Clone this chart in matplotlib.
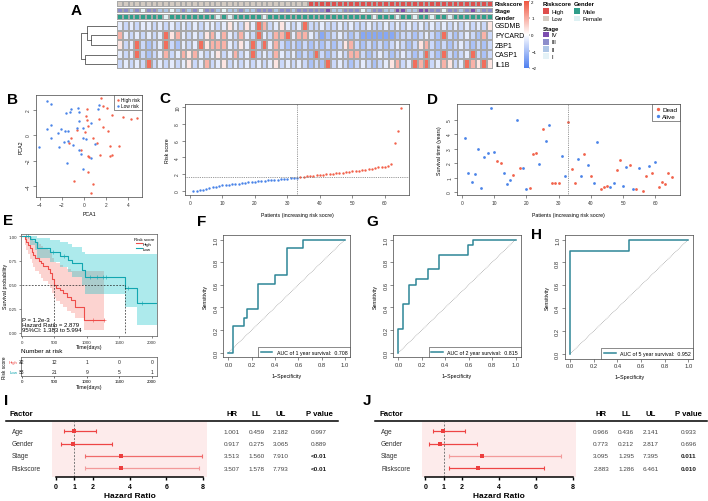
import numpy as np
import matplotlib
matplotlib.use('Agg')
import matplotlib.pyplot as plt
from matplotlib.colors import LinearSegmentedColormap, ListedColormap
from matplotlib.patches import Rectangle
from matplotlib.lines import Line2D
import matplotlib.transforms as mtrans

plt.rcParams['font.family'] = ['Liberation Sans', 'DejaVu Sans']

# ---------------- data ----------------
genes = ['GSDMB', 'PYCARD', 'ZBP1', 'CASP1', 'IL1B']
# expression levels coded a (blue) ... g (red), one char per patient
expr_rows = [
    "dcdcddcdcd" "cdcdcddcde" "dcedgfcded" "cdgccdccdc" "dccdccdcdc" "dcdcdcdcdc" "dcdce",
    "fdcdcdcdge" "fdcdcefdfd" "cfdcgdcffg" "dffdcabcdc" "bcaaaaaabc" "cbcdcbgcbc" "dcbfc",
    "ecdgcbcdgc" "bdcdgefffd" "cedgcgdfcb" "cbcbcbcbce" "fcbcbcbcdc" "bcefcbcbcd" "cbcbc",
    "dcdgcbcdfc" "dfefdcdecd" "fcdgcdcfdc" "dbcbgcbcdc" "ffcbcdcbcd" "cbcgcbgcbc" "dgcbc",
    "cdcdcgcdcd" "cdecdfcdec" "dcdcdcdecd" "cdcbcbgcdc" "bcdcbcdefc" "dgfgcdfecd" "gfege",
]
level = {'a': -1.35, 'b': -0.95, 'c': -0.6, 'd': -0.3, 'e': 0.3, 'f': 0.9, 'g': 1.7}
n_low, n_high = 33, 32
stage_codes = "3323133221" "2323133212" "2322333233" "2333334223" "3312332244" "2244331332" "34233"
gender_codes = "1111111101" "1111111010" "1111101111" "1111111111" "1111011101" "1011011011" "11111"
dend_height = {'pz': 2.2, 'g_pz': 2.5, 'ci': 2.7, 'root': 3.0}

pca_high_x = [1.55, 1.76, 2.06, 2.58, 3.58, 4.27, 4.79, 0.24, 0.18, 0.24, 0.39, 0.09, 1.39, 1.76, 2.15, -1.21,
              -1.36, 0.79, 1.21, 2.36, 3.18, -0.3, 0.39, 1.45, 2.36, 2.55, 0.39, -0.91, 0.79, 0.61, -0.67, 0.45]
pca_high_y = [2.9, 2.25, 2.12, 1.57, 1.44, 1.25, 1.31, 2.04, 1.52, 1.18, 0.68, 0.26, 1.25, 0.6, 0.34, -0.24,
              -0.63, -0.26, -0.63, -0.84, -0.86, -1.15, -1.67, -1.57, -1.62, -1.54, -2.93, -3.63, -3.87, -4.58, 0.39, -1.75]
pca_low_x = [-3.4, -3.0, -1.64, -1.21, -1.27, -0.58, -0.42, 1.24, 1.39, -0.42, 0.67, -0.6, -0.12, -1.48, -1.73, -2.09,
             -3.0, -3.39, -2.39, -3.03, -4.06, -2.24, -1.79, -1.42, -0.97, -0.06, 0.15, 1.0, -0.45, -0.3, 0.64, -1.58, -0.06]
pca_low_y = [2.69, 2.43, 1.75, 2.04, 1.78, 2.09, 1.78, 2.04, 2.38, 1.12, 0.94, 0.52, 0.57, 0.29, 0.29, 0.5,
             0.78, 0.44, 0.13, -0.24, -0.94, -0.97, -0.52, -0.5, -0.76, -0.24, -0.31, -0.71, -1.18, -1.49, -1.8, -2.22, -2.69]

risk_low = [0.00, 0.02, 0.05, 0.15, 0.25, 0.32, 0.45, 0.50, 0.58, 0.65, 0.70, 0.74, 0.78, 0.82, 0.86, 0.90, 0.95,
            1.00, 1.05, 1.10, 1.15, 1.18, 1.22, 1.25, 1.28, 1.31, 1.35, 1.38, 1.42, 1.46, 1.50, 1.54, 1.58]
risk_high = [1.64, 1.68, 1.72, 1.76, 1.82, 1.86, 1.90, 1.93, 1.96, 2.00, 2.04, 2.08, 2.12, 2.16, 2.22, 2.28, 2.33,
             2.38, 2.42, 2.46, 2.52, 2.58, 2.66, 2.75, 2.82, 2.86, 2.90, 3.00, 3.17, 5.70, 7.20, 9.95]
risk_cutoff = 1.62

surv_time = [3.75, 1.35, 0.70, 1.22, 2.98, 0.25, 2.40, 2.70, 5.82, 2.75, 2.15, 2.00, 1.35, 0.57, 0.85, 1.18,
             5.00, 1.67, 1.67, 0.20, 0.30, 2.60, 2.68, 1.92, 4.35, 3.55, 4.60, 0.62, 0.60, 0.62, 2.50, 1.10,
             4.86, 1.62, 0.62, 2.25, 1.08, 2.62, 1.90, 1.10, 0.62, 3.45, 0.20, 0.32, 0.45, 0.37, 0.62, 1.50,
             2.18, 0.42, 1.72, 1.90, 0.23, 0.24, 1.65, 0.08, 1.13, 1.78, 1.30, 2.08, 0.37, 0.72, 0.55, 1.33, 1.05]
surv_dead = [0, 0, 0, 0, 0, 0, 0, 0, 0, 0, 1, 1, 0, 0, 0, 1, 0, 1, 0, 0, 1, 1, 1, 0, 1, 0, 0, 1, 1, 1, 0, 0,
             1, 1, 1, 0, 0, 1, 0, 1, 0, 0, 1, 1, 1, 0, 0, 1, 1, 0, 0, 1, 0, 1, 0, 1, 1, 0, 1, 0, 1, 1, 1, 1, 1]

km_high_t = [0, 40, 60, 90, 120, 150, 175, 200, 260, 300, 330, 400, 430, 460, 490, 530, 580, 630, 700, 760, 820, 960, 1270]
km_high_s = [1.0, 0.97, 0.94, 0.91, 0.88, 0.84, 0.81, 0.78, 0.75, 0.72, 0.69, 0.66, 0.62, 0.56, 0.50, 0.47, 0.44,
             0.41, 0.37, 0.34, 0.27, 0.13, 0.13]
km_high_up = [1.0, 1.0, 1.0, 1.0, 0.99, 0.97, 0.95, 0.94, 0.92, 0.90, 0.88, 0.86, 0.83, 0.78, 0.74, 0.72, 0.70,
              0.68, 0.66, 0.64, 0.64, 0.64, 0.64]
km_high_lo = [1.0, 0.91, 0.86, 0.82, 0.77, 0.72, 0.68, 0.64, 0.61, 0.57, 0.54, 0.51, 0.47, 0.41, 0.36, 0.33, 0.30,
              0.27, 0.23, 0.21, 0.15, 0.03, 0.03]
km_low_t = [0, 120, 200, 230, 430, 590, 710, 765, 920, 970, 1580, 1770, 2080]
km_low_s = [1.0, 0.97, 0.94, 0.88, 0.84, 0.80, 0.76, 0.72, 0.65, 0.58, 0.47, 0.31, 0.31]
km_low_up = [1.0, 1.0, 1.0, 0.98, 0.96, 0.94, 0.92, 0.89, 0.84, 0.82, 0.82, 0.82, 0.82]
km_low_lo = [1.0, 0.91, 0.86, 0.78, 0.73, 0.68, 0.63, 0.58, 0.50, 0.40, 0.27, 0.08, 0.08]
cens_high = [1100, 1270]
cens_low = [60, 100, 480, 650, 1050, 1150, 1250, 1300, 1640, 1850]
km_median = [490, 1580]
risk_times = [0, 500, 1000, 1500, 2000]
at_risk_high = [32, 12, 1, 0, 0]
at_risk_low = [33, 21, 9, 5, 1]

roc1_fpr = [0, 0.043, 0.134, 0.163, 0.257, 0.40, 0.50, 0.643, 1.0]
roc1_tpr = [0, 0.235, 0.308, 0.384, 0.610, 0.689, 0.924, 1.0, 1.0]
roc2_fpr = [0, 0, 0.042, 0.093, 0.15, 0.253, 0.346, 0.59, 0.64, 1.0]
roc2_tpr = [0, 0.208, 0.434, 0.60, 0.648, 0.742, 0.865, 0.956, 1.0, 1.0]
roc5_fpr = [0, 0, 0.5, 1.0]
roc5_tpr = [0, 0.90, 1.0, 1.0]

factors = ['Age', 'Gender', 'Stage', 'Riskscore']
uni_hr = [1.001, 0.917, 3.513, 3.507]
uni_ll = [0.459, 0.275, 1.560, 1.578]
uni_ul = [2.182, 3.065, 7.910, 7.793]
uni_p = ['0.997', '0.889', '<0.01', '<0.01']
multi_hr = [0.966, 0.773, 3.095, 2.883]
multi_ll = [0.436, 0.212, 1.295, 1.286]
multi_ul = [2.141, 2.817, 7.395, 6.461]
multi_p = ['0.933', '0.696', '0.011', '0.010']

# ---------------- helpers ----------------
W, H = 708, 502
fig = plt.figure(figsize=(W / 100, H / 100), dpi=100)

RED = '#F2624B'
BLUE = '#4A84E8'


def box(l, t, r, b):
    return [l / W, 1 - b / H, (r - l) / W, (b - t) / H]


def ftext(x, y, s, **kw):
    kw.setdefault('va', 'center')
    fig.text(x / W, 1 - y / H, s, **kw)


def frect(l, t, r, b, color, ec='none'):
    fig.add_artist(Rectangle((l / W, 1 - b / H), (r - l) / W, (b - t) / H, transform=fig.transFigure,
                             facecolor=color, edgecolor=ec, linewidth=0.3))


def fline(x0, y0, x1, y1, **kw):
    fig.add_artist(Line2D([x0 / W, x1 / W], [1 - y0 / H, 1 - y1 / H], transform=fig.transFigure, **kw))


def letter(x, y, s):
    ftext(x, y, s, fontsize=11, fontweight='bold', ha='center')


def r_style(ax, size=3.8):
    for s in ax.spines.values():
        s.set_linewidth(0.5)
        s.set_color('#444')
    ax.tick_params(length=2, width=0.4, pad=1.5, labelsize=size, colors='#333')
    ax.tick_params(axis='y', labelrotation=90)
    for lab in ax.get_yticklabels():
        lab.set_va('center')


# ---------------- A: heatmap ----------------
letter(76, 11, 'A')
expr = np.array([[level[ch] for ch in row] for row in expr_rows])
cmap = LinearSegmentedColormap.from_list('hm', ['#4F7FEF', '#FFFFFF', '#F0553F'])
axh = fig.add_axes(box(117, 22, 493, 70))
mesh = axh.pcolormesh(expr, cmap=cmap, vmin=-2, vmax=2, edgecolors='#a8a8a8', linewidth=0.3)
axh.set_ylim(len(genes), 0)
axh.axis('off')
for i, g in enumerate(genes):
    axh.text(1.005, 1 - (i + 0.5) / len(genes), g, transform=axh.transAxes, fontsize=5, va='center', ha='left')

palette = ['#D3CBC2', '#DE4E4C', '#E4F2F7', '#AEC6E6', '#8C8DCB', '#7D4EAF', '#DDF1F3', '#2E9E8A']
ann_rows = [
    ('Riskscore', [0] * n_low + [1] * n_high, (2, 7.6)),
    ('Stage', [1 + int(c) for c in stage_codes], (8.8, 14.2)),
    ('Gender', [6 + int(c) for c in gender_codes], (15.4, 20.8)),
]
for name, codes, (t, b) in ann_rows:
    axa = fig.add_axes(box(117, t, 493, b))
    axa.pcolormesh(np.array([codes]), cmap=ListedColormap(palette), vmin=-0.5, vmax=7.5,
                   edgecolors='#a8a8a8', linewidth=0.3)
    axa.axis('off')
    ftext(495, (t + b) / 2, name, fontsize=4.2, fontweight='bold', ha='left')

axd = fig.add_axes(box(79, 22, 117, 70))
leaf = [0.5, 1.5, 2.5, 3.5, 4.5]
dk = dict(color='#333', lw=0.5)


def u(ax, y1, h1, y2, h2, h):
    ax.plot([h1, h, h, h2], [y1, y1, y2, y2], **dk)


hz = dend_height
u(axd, leaf[1], 0, leaf[2], 0, hz['pz'])
c_pz = (leaf[1] + leaf[2]) / 2
u(axd, leaf[0], 0, c_pz, hz['pz'], hz['g_pz'])
c_gpz = (leaf[0] + c_pz) / 2
u(axd, leaf[3], 0, leaf[4], 0, hz['ci'])
c_ci = (leaf[3] + leaf[4]) / 2
u(axd, c_gpz, hz['g_pz'], c_ci, hz['ci'], hz['root'])
axd.set_xlim(3.2, 0)
axd.set_ylim(5, 0)
axd.axis('off')

cax = fig.add_axes(box(524, 2, 528.5, 69))
cb = fig.colorbar(mesh, cax=cax, ticks=[-2, -1, 0, 1, 2])
cb.outline.set_visible(False)
cax.tick_params(labelsize=3.2, length=1, width=0.3, pad=1)

# annotation legends
ftext(542.5, 5, 'Riskscore', fontsize=4.3, fontweight='bold', ha='left')
for j, (lab, col) in enumerate([('High', palette[1]), ('Low', palette[0])]):
    frect(542.5, 9.3 + j * 7.3, 549.3, 15 + j * 7.3, col)
    ftext(551.5, 12.2 + j * 7.3, lab, fontsize=4.3, ha='left')
ftext(573.5, 5, 'Gender', fontsize=4.3, fontweight='bold', ha='left')
for j, (lab, col) in enumerate([('Male', palette[7]), ('Female', palette[6])]):
    frect(573.5, 9.3 + j * 7.3, 580.3, 15 + j * 7.3, col)
    ftext(582.5, 12.2 + j * 7.3, lab, fontsize=4.3, ha='left')
ftext(542.5, 29.5, 'Stage', fontsize=4.3, fontweight='bold', ha='left')
for j, (lab, col) in enumerate([('IV', palette[5]), ('III', palette[4]), ('II', palette[3]), ('I', palette[2])]):
    frect(542.5, 32.5 + j * 7.3, 549.3, 38.2 + j * 7.3, col)
    ftext(551.5, 35.4 + j * 7.3, lab, fontsize=4.3, ha='left')

# ---------------- B: PCA ----------------
letter(12, 100, 'B')
axb = fig.add_axes(box(36, 96, 142, 198))
axb.scatter(pca_high_x, pca_high_y, s=3, color=RED, lw=0, label='High risk')
axb.scatter(pca_low_x, pca_low_y, s=3, color=BLUE, lw=0, label='Low risk')
axb.set_xlim(-4.36, 5.27)
axb.set_ylim(-4.86, 3.14)
axb.set_xticks([-4, -2, 0, 2, 4])
axb.set_yticks([-4, -2, 0, 2])
axb.set_xlabel('PCA1', fontsize=3.8, labelpad=3)
axb.set_ylabel('PCA2', fontsize=3.8, labelpad=2)
r_style(axb, 3.5)
lg = axb.legend(loc='upper right', fontsize=3.4, borderaxespad=0, fancybox=False, framealpha=1,
                handletextpad=0.1, borderpad=0.4, labelspacing=0.3, handlelength=1.0)
lg.get_frame().set_edgecolor('#333')
lg.get_frame().set_linewidth(0.4)

# ---------------- C: risk score ----------------
letter(165, 99, 'C')
axc = fig.add_axes(box(185, 105, 409, 196))
idx_low = np.arange(1, n_low + 1)
idx_high = np.arange(n_low + 1, n_low + n_high + 1)
axc.scatter(idx_low, risk_low, s=3, color=BLUE, lw=0)
axc.scatter(idx_high, risk_high, s=3, color=RED, lw=0)
axc.axhline(risk_cutoff, color='#777', ls=(0, (1, 1.2)), lw=0.6)
axc.axvline(n_low, color='#777', ls=(0, (1, 1.2)), lw=0.6)
axc.set_xlim(-1.54, 67.4)
axc.set_ylim(-0.5, 10.37)
axc.set_xticks([0, 10, 20, 30, 40, 50, 60])
axc.set_yticks([0, 2, 4, 6, 8, 10])
axc.set_xlabel('Patients (increasing risk socre)', fontsize=3.8, labelpad=5)
axc.set_ylabel('Risk score', fontsize=3.8, labelpad=4)
r_style(axc, 3.5)

# ---------------- D: survival status ----------------
letter(432, 100, 'D')
axs = fig.add_axes(box(457, 105, 680, 196))
pid = np.arange(1, len(surv_time) + 1)
st = np.array(surv_time)
dead = np.array(surv_dead) == 1
axs.scatter(pid[dead], st[dead], s=4, color=RED, lw=0, label='Dead')
axs.scatter(pid[~dead], st[~dead], s=4, color=BLUE, lw=0, label='Alive')
axs.axvline(n_low, color='#777', ls=(0, (1, 1.2)), lw=0.6)
axs.set_xlim(-1.5, 67.6)
axs.set_ylim(-0.2, 6.07)
axs.set_xticks([0, 10, 20, 30, 40, 50, 60])
axs.set_yticks([0, 1, 2, 3, 4, 5])
axs.set_xlabel('Patients (increasing risk socre)', fontsize=3.8, labelpad=5)
axs.set_ylabel('Survival time (years)', fontsize=3.8, labelpad=4)
r_style(axs, 3.5)
lg = axs.legend(loc='upper right', fontsize=4.6, borderaxespad=0, fancybox=False, framealpha=1,
                handletextpad=0.1, borderpad=0.4, labelspacing=0.2, handlelength=1.2, markerscale=1.2)
lg.get_frame().set_edgecolor('#333')
lg.get_frame().set_linewidth(0.4)

# ---------------- E: Kaplan-Meier ----------------
letter(8, 221, 'E')
KM_RED, KM_TEAL = '#EE4D4A', '#12A6B0'
axk = fig.add_axes(box(21, 235, 157.3, 337.3))
axk.fill_between(km_high_t, km_high_lo, km_high_up, step='post', color='#F8766D', alpha=0.32, lw=0)
axk.fill_between(km_low_t, km_low_lo, km_low_up, step='post', color='#00BFC4', alpha=0.32, lw=0)
axk.step(km_high_t, km_high_s, where='post', color=KM_RED, lw=0.8)
axk.step(km_low_t, km_low_s, where='post', color=KM_TEAL, lw=0.8)


def s_at(ts, ss, q):
    i = np.searchsorted(ts, q, side='right') - 1
    return np.array(ss)[i]


axk.plot(cens_high, s_at(km_high_t, km_high_s, cens_high), '+', color=KM_RED, ms=2.2, mew=0.4)
axk.plot(cens_low, s_at(km_low_t, km_low_s, cens_low), '+', color=KM_TEAL, ms=2.2, mew=0.4)
axk.plot([0, max(km_median)], [0.5, 0.5], color='#222', ls=(0, (2.5, 2)), lw=0.5)
for m in km_median:
    axk.plot([m, m], [0, 0.5], color='#222', ls=(0, (2.5, 2)), lw=0.5)
axk.set_xlim(-15, 2085)
axk.set_ylim(-0.035, 1.025)
axk.set_xticks(risk_times)
axk.set_yticks([0, 0.25, 0.5, 0.75, 1.0])
axk.set_yticklabels(['0.00', '0.25', '0.50', '0.75', '1.00'])
axk.set_xlabel('Time(days)', fontsize=3.8, labelpad=0.5)
axk.set_ylabel('Survival probability', fontsize=3.8, labelpad=1)
for s in axk.spines.values():
    s.set_linewidth(0.5)
    s.set_color('#555')
axk.tick_params(length=1.5, width=0.4, pad=1, labelsize=3.2, colors='#333')
axk.text(-5, 0.01, 'P = 1.2e-3\nHazard Ratio = 2.879\n95%CI: 1.383 to 5.994', fontsize=4.3,
         va='bottom', ha='left', linespacing=1.0)
hl = [Line2D([], [], color=KM_RED, lw=0.8), Line2D([], [], color=KM_TEAL, lw=0.8)]
lg = axk.legend(hl, ['High', 'Low'], title='Risk score', loc='upper right', fontsize=3.2, title_fontsize=3.2,
                frameon=False, handlelength=1.2, handletextpad=0.3, labelspacing=0.15, borderaxespad=0.3)

ftext(21, 351.5, 'Number at risk', fontsize=4.6, ha='left')
axt = fig.add_axes(box(21, 358.3, 157.3, 376.7))
for j, (vals, col) in enumerate([(at_risk_high, KM_RED), (at_risk_low, KM_TEAL)]):
    for t, v in zip(risk_times, vals):
        axt.text(t, j, str(v), fontsize=3.6, ha='center', va='center', color='#222')
axt.set_xlim(-15, 2085)
axt.set_ylim(1.5, -0.5)
axt.set_yticks([0, 1])
axt.set_yticklabels(['High', 'Low'])
for lab, col in zip(axt.get_yticklabels(), [KM_RED, KM_TEAL]):
    lab.set_color(col)
axt.set_xticks(risk_times)
axt.set_xlabel('Time(days)', fontsize=3.8, labelpad=0.5)
axt.set_ylabel('Risk score', fontsize=3.4, labelpad=1)
for s in axt.spines.values():
    s.set_linewidth(0.5)
    s.set_color('#555')
axt.tick_params(length=1.5, width=0.4, pad=1, labelsize=3.2)

# ---------------- F, G, H: ROC ----------------
ROC_COL = '#2E8697'


def roc_panel(rect, fpr, tpr, label):
    ax = fig.add_axes(box(*rect))
    ax.plot([0, 1], [0, 1], color='#888', ls=(0, (1, 1.3)), lw=0.5)
    ax.plot(fpr, tpr, drawstyle='steps-post', color=ROC_COL, lw=1.1, label=label)
    ax.set_xlim(-0.043, 1.043)
    ax.set_ylim(-0.04, 1.04)
    ticks = [0, 0.2, 0.4, 0.6, 0.8, 1.0]
    ax.set_xticks(ticks)
    ax.set_yticks(ticks)
    ax.set_xticklabels(['%.1f' % v for v in ticks])
    ax.set_yticklabels(['%.1f' % v for v in ticks])
    ax.set_xlabel('1\u2212Specificity', fontsize=3.8, labelpad=4)
    ax.set_ylabel('Sensitivity', fontsize=3.8, labelpad=4)
    r_style(ax, 4.2)
    lg = ax.legend(loc='lower right', fontsize=3.8, borderaxespad=0, fancybox=False, framealpha=1,
                   handlelength=2.2, handletextpad=0.8, borderpad=0.5)
    lg.get_frame().set_edgecolor('#333')
    lg.get_frame().set_linewidth(0.4)
    return ax


letter(202, 222, 'F')
roc_panel((223.3, 236, 350, 358.3), roc1_fpr, roc1_tpr, 'AUC of 1 year survival:  0.708')
letter(372, 222, 'G')
roc_panel((393.3, 236, 520.7, 358.3), roc2_fpr, roc2_tpr, 'AUC of 2 year survival:  0.815')
letter(537, 235, 'H')
roc_panel((565, 236, 693.3, 359.5), roc5_fpr, roc5_tpr, 'AUC of 5 year survival:  0.952')

# ---------------- I, J: forest plots ----------------


def forest(dx, hr, ll, ul, pv, bar_cols):
    ax = fig.add_axes(box(52.3 + dx, 423.3, 206.7 + dx, 478.3))
    ax.set_facecolor('#FDEBEB')
    rows = np.arange(len(factors))
    ax.axvline(1, color='#777', ls=(0, (2, 1.5)), lw=0.7)
    for r in rows:
        ax.errorbar(hr[r], r, xerr=[[hr[r] - ll[r]], [ul[r] - hr[r]]], fmt='none', ecolor=bar_cols[r],
                    elinewidth=0.9, capsize=1.6, capthick=0.8)
    ax.plot(hr, rows, 's', color='#EC3E3E', ms=3.3, mew=0)
    ax.set_xlim(-0.2, 8.19)
    ax.set_ylim(3.73, -0.73)
    for s in ['top', 'right', 'left']:
        ax.spines[s].set_visible(False)
    ax.spines['bottom'].set_bounds(0, 8)
    ax.spines['bottom'].set_linewidth(1.1)
    ax.set_yticks([])
    ax.set_xticks([0, 1, 2, 4, 6, 8])
    ax.tick_params(axis='x', length=2.5, width=1.0, pad=1.5, labelsize=5)
    for lab in ax.get_xticklabels():
        lab.set_fontweight('bold')
    ftext(129.6 + dx, 497, 'Hazard Ratio', fontsize=6, fontweight='bold', ha='center')
    tr = mtrans.blended_transform_factory(fig.transFigure, ax.transData)
    ftext(10 + dx, 414.3, 'Factor', fontsize=5.6, fontweight='bold', ha='left')
    cols_x = [231.7, 256.7, 281, 319]
    for x, h in zip(cols_x, ['HR', 'LL', 'UL', 'P value']):
        ftext(x + dx, 414.3, h, fontsize=5.6, fontweight='bold', ha='center')
    fline(6 + dx, 422.3, 338 + dx, 422.3, color='black', lw=1.1)
    for r in rows:
        ax.text((11.7 + dx) / W, r, factors[r], transform=tr, fontsize=4.8, va='center', ha='left', color='#333')
        for x, v in zip(cols_x[:3], [hr[r], ll[r], ul[r]]):
            ax.text((x + dx) / W, r, '%.3f' % v, transform=tr, fontsize=4.6, va='center', ha='center', color='#444')
        sig = pv[r].startswith('<') or float(pv[r]) < 0.05
        ax.text((cols_x[3] + dx) / W, r, pv[r], transform=tr, fontsize=4.6, va='center', ha='center',
                color='#222' if sig else '#444', fontweight='bold' if sig else 'normal')
    return ax


letter(6, 401, 'I')
forest(0, uni_hr, uni_ll, uni_ul, uni_p, ['#EE4444', '#EE4444', '#F06A6A', '#F39A9A'])
letter(367, 401, 'J')
forest(369.4, multi_hr, multi_ll, multi_ul, multi_p, ['#EE4444', '#EE4444', '#F39A9A', '#EE4444'])

fig.savefig('out.png', dpi=100)
